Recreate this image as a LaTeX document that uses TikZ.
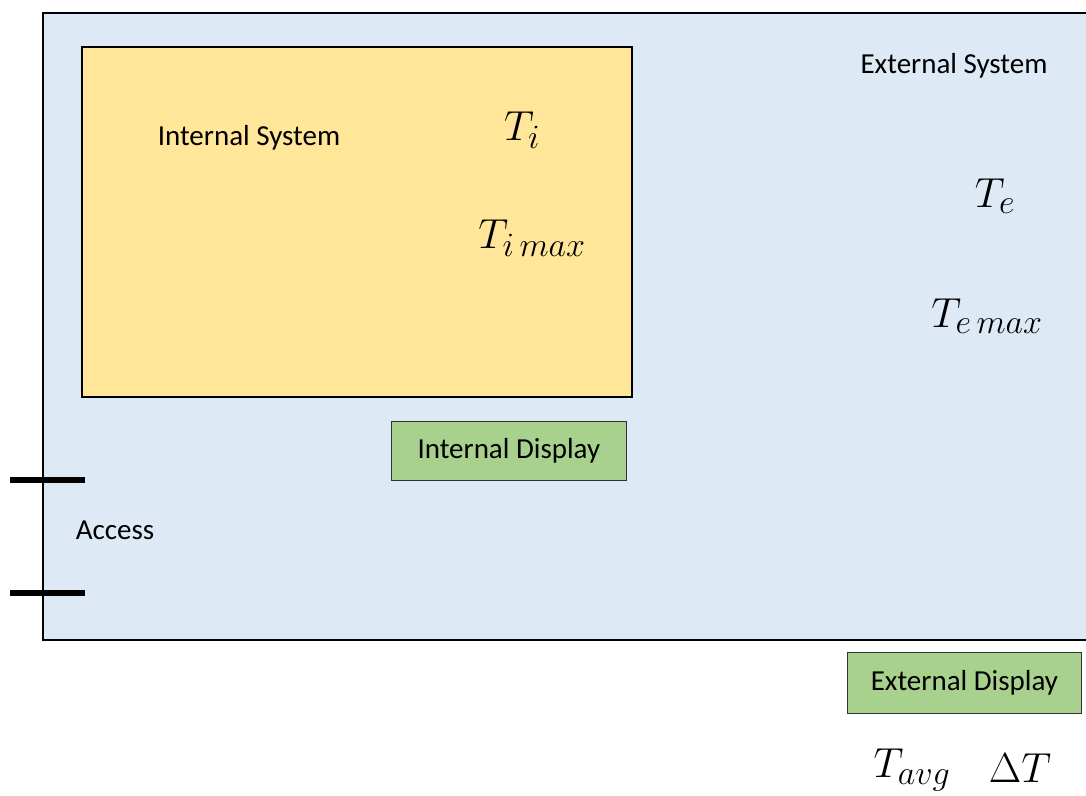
\RequirePackage{fix-cm}
\documentclass[tikz,border=0pt]{standalone}
\usepackage{fontspec}
\setmainfont{Carlito}
\DeclareMathSizes{42}{42}{34}{28}
\definecolor{outerfill}{RGB}{222,233,246}
\definecolor{innerfill}{RGB}{255,230,153}
\definecolor{dispfill}{RGB}{169,209,142}
\tikzset{
  lbl/.style={inner sep=0pt, font=\fontsize{29}{34}\selectfont},
  mth/.style={inner sep=0pt, font=\fontsize{42}{48}\selectfont},
  disp/.style={draw=black!80, line width=0.8pt, fill=dispfill, inner sep=0pt},
  bar/.style={line width=6.5pt},
}
\begin{document}
\begin{tikzpicture}[x=1pt,y=-1pt]
\useasboundingbox (0,0) rectangle (1086,795);
% outer system
\path[fill=outerfill] (43,13) rectangle (1090,640);
\draw[line width=2.4pt] (1090,13) -- (43,13) -- (43,640) -- (1090,640);
% internal system
\node[draw, line width=2.4pt, fill=innerfill, minimum width=550pt, minimum height=350pt, anchor=north west, inner sep=0pt] (inner) at (81,46) {};
\node[lbl] (intlbl) at (249,138) {Internal System};
\node[lbl] (extlbl) at (954,66) {External System};
\node[mth] (ti) at (522,130) {$T_i$};
\node[mth] (timax) at (532,238) {$T_{i\,max}$};
\node[mth] (te) at (995,196) {$T_e$};
\node[mth] (temax) at (987,316) {$T_{e\,max}$};
% displays
\node[disp, minimum width=235pt, minimum height=59pt, anchor=north west] (intdisp) at (391,421) {};
\node[lbl] at (intdisp.center) {Internal Display};
\node[disp, minimum width=234pt, minimum height=61pt, anchor=north west] (extdisp) at (847,652) {};
\node[lbl] at (extdisp.center) {External Display};
% access
\coordinate (a1l) at (10,480); \coordinate (a1r) at (85,480);
\coordinate (a2l) at (10,593); \coordinate (a2r) at (85,593);
\draw[bar] (a1l) -- (a1r);
\draw[bar] (a2l) -- (a2r);
\node[lbl] (access) at (115,530) {Access};
% bottom quantities
\node[mth] (tavg) at (912,770) {$T_{avg}$};
\node[mth] (dt) at (1020,768) {$\Delta T$};
\end{tikzpicture}
\end{document}
